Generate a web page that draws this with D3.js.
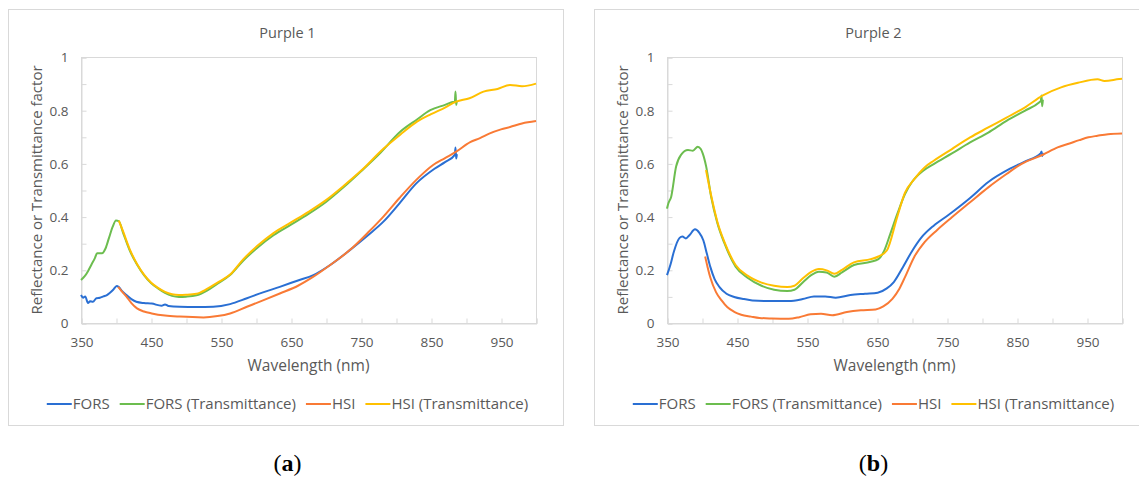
<!DOCTYPE html>
<html><head><meta charset="utf-8">
<script src="https://cdn.jsdelivr.net/npm/d3@7"></script>
<style>body{margin:0;background:#fff}svg{display:block}</style>
</head><body>
<svg id="c" width="1139" height="477"></svg>
<script>
// ---------- DATA ----------
const panelTitles = ["Purple 1", "Purple 2"];
const panelTags = ["a", "b"];
const seriesNames = ["FORS", "FORS (Transmittance)", "HSI", "HSI (Transmittance)"];
const xTickValues = [350,400,450,500,550,600,650,700,750,800,850,900,950,1000];
const xTickLabels = ["350","","450","","550","","650","","750","","850","","950",""];
const yTickValues = [0,0.1,0.2,0.3,0.4,0.5,0.6,0.7,0.8,0.9,1];
const yTickLabels = ["0","","0.2","","0.4","","0.6","","0.8","","1"];

// Purple 1
const p1ForsNm  = [350,353,356,360,363,367,372,377,382,387,391,396,401,404,408,415,422,429,440,451,465,470,475,491,515,539,563,587,610,634,660,682,706,734,760,782,805,829,855,870,884,885,886,887];
const p1ForsVal = [0.105,0.095,0.1,0.075,0.082,0.08,0.093,0.095,0.1,0.105,0.113,0.125,0.139,0.135,0.122,0.105,0.09,0.08,0.075,0.073,0.065,0.07,0.064,0.061,0.06,0.061,0.071,0.093,0.115,0.136,0.16,0.18,0.218,0.274,0.33,0.381,0.45,0.525,0.58,0.605,0.632,0.66,0.618,0.635];
const p1ForsTNm  = [350,355,360,365,370,373,380,385,390,395,400,404,410,420,430,440,450,460,470,480,490,500,515,530,545,563,582,602,625,650,675,700,725,750,776,806,830,849,870,883,884,885,886,887];
const p1ForsTVal = [0.162,0.175,0.195,0.22,0.245,0.262,0.262,0.28,0.32,0.36,0.385,0.383,0.34,0.27,0.22,0.18,0.15,0.13,0.113,0.102,0.098,0.099,0.104,0.122,0.148,0.18,0.235,0.283,0.33,0.37,0.41,0.455,0.51,0.57,0.635,0.719,0.765,0.80,0.82,0.832,0.83,0.87,0.82,0.835];
const p1HsiNm  = [403,408,415,422,430,440,451,470,491,525,545,563,587,610,634,660,682,706,734,760,782,805,829,853,870,886,906,920,934,950,963,980,1000];
const p1HsiVal = [0.136,0.12,0.099,0.075,0.055,0.043,0.036,0.028,0.024,0.021,0.026,0.036,0.061,0.085,0.111,0.14,0.174,0.218,0.274,0.34,0.40,0.47,0.538,0.594,0.62,0.644,0.68,0.695,0.713,0.728,0.737,0.75,0.759];
const p1HsiTNm  = [404,410,420,430,440,450,460,470,480,490,500,515,530,545,563,582,602,625,650,675,700,725,750,782,806,830,850,870,886,905,925,945,963,980,1000];
const p1HsiTVal = [0.385,0.345,0.275,0.222,0.182,0.152,0.132,0.117,0.108,0.105,0.106,0.11,0.128,0.152,0.182,0.24,0.29,0.338,0.378,0.418,0.462,0.515,0.572,0.655,0.708,0.757,0.785,0.81,0.832,0.845,0.87,0.88,0.895,0.89,0.90];

// Purple 2
const p2ForsNm  = [350,355,360,368,372,377,382,390,396,402,407,412,418,425,435,446,460,472,498,524,544,560,576,591,612,633,651,664,674,687,700,713,731,752,783,809,840,861,884,885,886,887];
const p2ForsVal = [0.18,0.22,0.27,0.32,0.325,0.318,0.33,0.352,0.34,0.31,0.26,0.21,0.165,0.135,0.11,0.098,0.09,0.085,0.0825,0.0825,0.09,0.10,0.10,0.095,0.105,0.11,0.114,0.13,0.154,0.21,0.27,0.32,0.366,0.406,0.47,0.53,0.58,0.607,0.638,0.645,0.628,0.64];
const p2ForsTNm  = [350,352,356,363,370,380,387,394,398,401,406,413,422,432,448,465,485,503,522,532,545,556,567,578,589,600,617,641,652,660,669,679,690,700,716,731,757,783,809,835,861,882,884,885,886,887];
const p2ForsTVal = [0.43,0.45,0.475,0.588,0.632,0.65,0.648,0.663,0.655,0.638,0.588,0.475,0.375,0.30,0.212,0.17,0.14,0.125,0.12,0.125,0.155,0.18,0.193,0.19,0.174,0.19,0.218,0.23,0.24,0.27,0.335,0.41,0.485,0.53,0.5725,0.5975,0.6375,0.679,0.716,0.76,0.7975,0.83,0.835,0.855,0.815,0.84];
const p2HsiNm  = [404.5,408,412,420,428,436,446,456,470,482,500,524,539,555,570,586,607,627,648,659,672,682,690,703,718,736,757,783,809,835,856,887,908,925,939,952,965,980,1000];
const p2HsiVal = [0.25,0.21,0.17,0.116,0.085,0.06,0.042,0.031,0.024,0.019,0.017,0.016,0.022,0.0325,0.035,0.029,0.041,0.0475,0.051,0.0625,0.091,0.129,0.1725,0.2475,0.304,0.35,0.3975,0.454,0.51,0.56,0.5975,0.6325,0.66,0.675,0.6875,0.698,0.704,0.71,0.7125];
const p2HsiTNm  = [405.7,413,422,432,448,465,485,503,522,532,545,556,567,578,589,600,617,641,652,664,679,690,703,718,731,757,783,809,835,861,887,913,937,965,975,996,1000];
const p2HsiTVal = [0.575,0.48,0.38,0.305,0.218,0.178,0.152,0.14,0.135,0.14,0.17,0.192,0.203,0.198,0.185,0.2,0.228,0.24,0.25,0.2725,0.40,0.49,0.54,0.585,0.61,0.654,0.6975,0.735,0.7725,0.81,0.856,0.886,0.903,0.916,0.91,0.917,0.918];

// ---------- DRAW ----------
const colors = ["#2a6fd3", "#6cbd4f", "#f97a35", "#ffc000"];
const textCol = "#595959";
const gridCol = "#d9d9d9";
const FONT = "'Open Sans', sans-serif";

const panels = [
  { x0: 8,   series: [[p1ForsNm,p1ForsVal],[p1ForsTNm,p1ForsTVal],[p1HsiNm,p1HsiVal],[p1HsiTNm,p1HsiTVal]] },
  { x0: 594, series: [[p2ForsNm,p2ForsVal],[p2ForsTNm,p2ForsTVal],[p2HsiNm,p2HsiVal],[p2HsiTNm,p2HsiTVal]] }
];

const svg = d3.select("#c");
svg.append("rect").attr("width",1139).attr("height",477).attr("fill","#fff");

panels.forEach((p, i) => {
  const W = 555, top = 9, H = 416;
  const g = svg.append("g");
  g.append("rect").attr("x", p.x0 + 0.5).attr("y", top + 0.5).attr("width", W).attr("height", H)
    .attr("fill", "#fff").attr("stroke", gridCol).attr("stroke-width", 1);

  const left = p.x0 + 73, right = p.x0 + 528, ptop = 57, pbot = 323;
  const x = d3.scaleLinear().domain([350, 1000]).range([left, right]);
  const y = d3.scaleLinear().domain([0, 1]).range([pbot, ptop]);

  // plot frame
  g.append("rect").attr("x", left + 0.5).attr("y", ptop + 0.5).attr("width", right - left).attr("height", pbot - ptop)
    .attr("fill", "none").attr("stroke", gridCol);

  const xa = g.append("g").attr("transform", `translate(0.5,${pbot + 0.5})`)
    .call(d3.axisBottom(x).tickValues(xTickValues).tickSize(-5).tickPadding(14)
      .tickFormat((d, k) => xTickLabels[k]));
  xa.select(".domain").attr("stroke", gridCol);
  xa.selectAll(".tick line").attr("stroke", gridCol);
  xa.selectAll("text").attr("fill", textCol).style("font", `13.5px ${FONT}`);

  const ya = g.append("g").attr("transform", `translate(${left + 0.5},0.5)`)
    .call(d3.axisLeft(y).tickValues(yTickValues).tickSize(-5).tickPadding(13)
      .tickFormat((d, k) => yTickLabels[k]));
  ya.select(".domain").attr("stroke", gridCol);
  ya.selectAll(".tick line").attr("stroke", gridCol);
  ya.selectAll("text").attr("fill", textCol).style("font", `13.5px ${FONT}`);

  // title
  g.append("text").attr("x", p.x0 + W / 2 + 2).attr("y", 38).attr("text-anchor", "middle")
    .attr("fill", textCol).style("font", `14.5px ${FONT}`).text(panelTitles[i]);
  // axis titles
  g.append("text").attr("x", (left + right) / 2).attr("y", 371).attr("text-anchor", "middle")
    .attr("fill", textCol).style("font", `15.5px ${FONT}`).text("Wavelength (nm)");
  g.append("text").attr("transform", `translate(${left - 39},${(ptop + pbot) / 2}) rotate(-90)`)
    .attr("text-anchor", "middle").attr("fill", textCol).style("font", `15px ${FONT}`)
    .text("Reflectance or Transmittance factor");

  // lines
  const line = d3.line().x(d => x(d[0])).y(d => y(d[1])).curve(d3.curveMonotoneX);
  p.series.forEach((s, k) => {
    const pts = s[0].map((v, j) => [v, s[1][j]]);
    g.append("path").datum(pts).attr("d", line).attr("fill", "none")
      .attr("stroke", colors[k]).attr("stroke-width", 2).attr("stroke-linejoin", "round");
  });

  // legend
  const lg = g.append("g");
  let cx = 0;
  const ly = 404;
  seriesNames.forEach((name, k) => {
    lg.append("line").attr("x1", cx).attr("x2", cx + 25).attr("y1", ly).attr("y2", ly)
      .attr("stroke", colors[k]).attr("stroke-width", 2);
    const t = lg.append("text").attr("x", cx + 26).attr("y", ly + 5).attr("fill", textCol)
      .style("font", `15px ${FONT}`).text(name);
    cx += 26 + t.node().getComputedTextLength() + 10;
  });
  const lw = cx - 10;
  lg.attr("transform", `translate(${p.x0 + W / 2 + 2 - lw / 2},0)`);

  // panel tag
  const tag = svg.append("text").attr("x", p.x0 + W / 2 + 2).attr("y", 471).attr("text-anchor", "middle")
    .attr("fill", "#000").style("font", `24px 'Liberation Serif', serif`);
  tag.append("tspan").text("(");
  tag.append("tspan").attr("font-weight", "bold").text(panelTags[i]);
  tag.append("tspan").text(")");
});
</script>
</body></html>
